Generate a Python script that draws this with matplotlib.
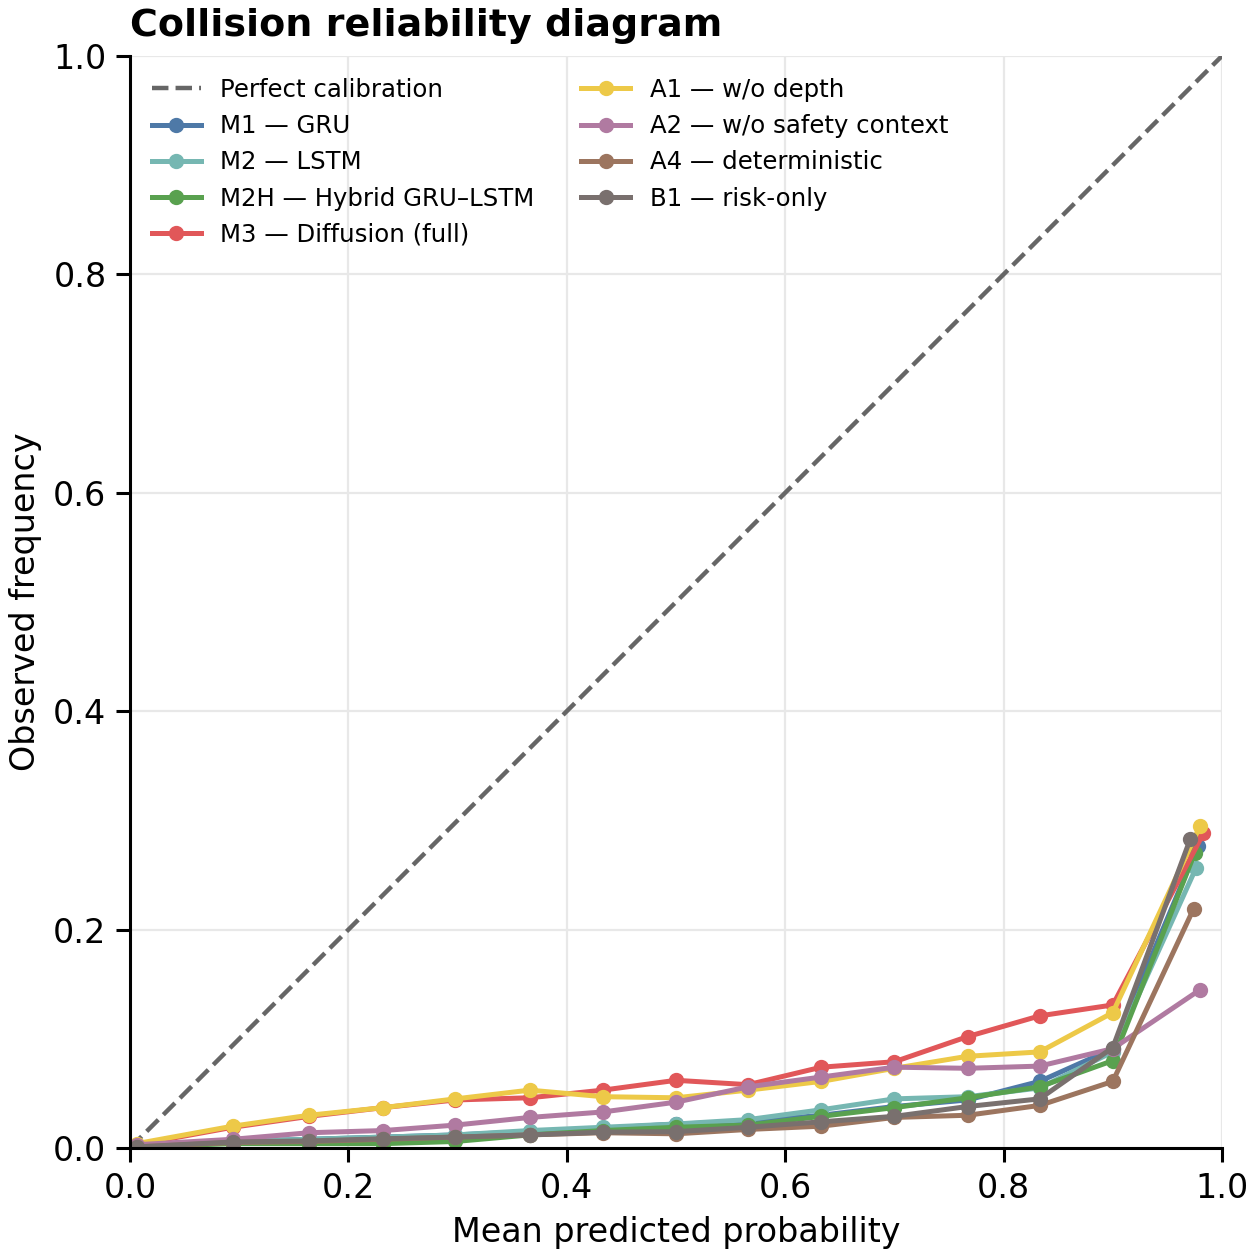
import numpy as np
import matplotlib.pyplot as plt

# bin centres shared by all models (mean predicted probability)
x_mid = [0.094, 0.164, 0.232, 0.298, 0.366, 0.433, 0.500,
         0.566, 0.633, 0.700, 0.767, 0.833, 0.900]

labels = ["M1 — GRU", "M2 — LSTM", "M2H — Hybrid GRU–LSTM", "M3 — Diffusion (full)",
          "A1 — w/o depth", "A2 — w/o safety context", "A4 — deterministic", "B1 — risk-only"]
colors = ["#4e79a7", "#76b7b2", "#59a14f", "#e15759",
          "#edc948", "#b07aa1", "#9c755f", "#79706e"]

# first and last bin x per model
x_first = [0.006, 0.006, 0.006, 0.006, 0.006, 0.006, 0.006, 0.006]
x_last = [0.978, 0.976, 0.975, 0.983, 0.980, 0.980, 0.974, 0.971]

# observed frequency per model (first, 13 mid bins, last)
m1 = [0.002, 0.006, 0.008, 0.010, 0.012, 0.015, 0.018, 0.022, 0.024, 0.030, 0.038, 0.044, 0.061, 0.091, 0.277]
m2 = [0.002, 0.006, 0.008, 0.010, 0.012, 0.016, 0.019, 0.022, 0.026, 0.035, 0.045, 0.047, 0.055, 0.088, 0.256]
m2h = [0.001, 0.004, 0.004, 0.004, 0.006, 0.012, 0.016, 0.019, 0.021, 0.029, 0.037, 0.046, 0.056, 0.080, 0.270]
m3 = [0.003, 0.019, 0.029, 0.037, 0.044, 0.046, 0.053, 0.062, 0.058, 0.074, 0.079, 0.102, 0.121, 0.131, 0.288]
a1 = [0.004, 0.020, 0.030, 0.037, 0.045, 0.053, 0.047, 0.046, 0.053, 0.061, 0.073, 0.084, 0.088, 0.124, 0.295]
a2 = [0.003, 0.008, 0.014, 0.016, 0.021, 0.028, 0.033, 0.042, 0.056, 0.065, 0.074, 0.073, 0.075, 0.091, 0.145]
a4 = [0.001, 0.005, 0.006, 0.008, 0.010, 0.012, 0.014, 0.013, 0.017, 0.020, 0.028, 0.030, 0.039, 0.061, 0.219]
b1 = [0.001, 0.0055, 0.0065, 0.0085, 0.010, 0.012, 0.0145, 0.015, 0.019, 0.024, 0.029, 0.038, 0.045, 0.092, 0.283]
obs = [m1, m2, m2h, m3, a1, a2, a4, b1]

fig = plt.figure(figsize=(6.275, 6.285), dpi=200)
ax = fig.add_axes([0.1036, 0.0867, 0.8701, 0.8688])

ax.plot([0, 1], [0, 1], ls="--", color="#666666", lw=1.6, label="Perfect calibration")
for lab, col, xf, xl, y in zip(labels, colors, x_first, x_last, obs):
    xs = [xf] + x_mid + [xl]
    ax.plot(xs, y, color=col, lw=1.8, marker="o", ms=4.5, label=lab)

ax.set_xlim(0, 1)
ax.set_ylim(0, 1)
ax.set_xticks(np.arange(0, 1.01, 0.2))
ax.set_yticks(np.arange(0, 1.01, 0.2))
ax.tick_params(labelsize=12, width=1.1, length=5)
ax.grid(True, color="#e8e8e8", lw=0.8)
ax.set_axisbelow(True)
for s in ["top", "right"]:
    ax.spines[s].set_visible(False)
for s in ["left", "bottom"]:
    ax.spines[s].set_linewidth(1.1)

ax.set_xlabel("Mean predicted probability", fontsize=12)
ax.set_ylabel("Observed frequency", fontsize=12)
ax.set_title("Collision reliability diagram", fontsize=13.7, fontweight="bold", loc="left", pad=7)
ax.legend(ncol=2, loc="upper left", frameon=False, fontsize=8.8,
          columnspacing=1.9, bbox_to_anchor=(0.0, 1.0))

plt.savefig("out.png", dpi=200)
